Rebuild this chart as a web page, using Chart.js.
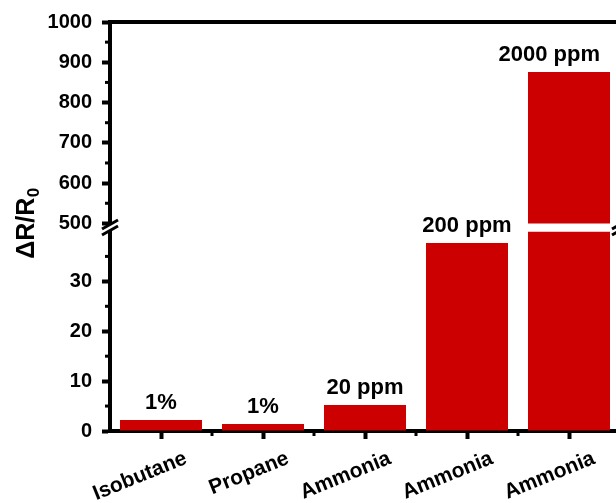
<!DOCTYPE html>
<html>
<head>
<meta charset="utf-8">
<script src="https://cdn.jsdelivr.net/npm/chart.js@4/dist/chart.umd.min.js"></script>
<style>
  html, body { margin: 0; padding: 0; background: #fff; overflow: hidden; width: 616px; height: 503px; }
  canvas { display: block; }
</style>
</head>
<body>
<canvas id="chart" width="620" height="503"></canvas>
<script>
// Sensor response of the film to different gases
const categories = ['Isobutane', 'Propane', 'Ammonia', 'Ammonia', 'Ammonia'];
const concentrations = ['1%', '1%', '20 ppm', '200 ppm', '2000 ppm'];
const response = [2.2, 1.4, 5.2, 37.7, 876];

// Broken y axis: a lower segment and an upper segment
const lowerTicks = [0, 10, 20, 30];
const lowerMinorTicks = [5, 15, 25, 35];
const upperTicks = [500, 600, 700, 800, 900, 1000];
const upperMinorTicks = [550, 650, 750, 850, 950];
const LOWER_MAX = 40;
const UPPER_START = 500;
const UPPER_MIN = 480;
const UPPER_MAX = 1000;

const RED = '#cc0000';
const FAMILY = '"Liberation Sans", Arial, Helvetica, sans-serif';
const INK = '#000';

// Part of each bar that falls inside each axis segment
const lowerPart = response.map(v => [0, Math.min(v, LOWER_MAX)]);
const upperPart = response.map(v => (v > UPPER_START ? [UPPER_START, v] : null));

const brokenAxisPlugin = {
  id: 'brokenAxis',
  afterDraw(chart) {
    const ctx = chart.ctx;
    const area = chart.chartArea;
    const yLow = chart.scales.yLow;
    const yHigh = chart.scales.yHigh;

    ctx.save();
    ctx.fillStyle = INK;

    // minor ticks on the y segments
    const minorY = (scale, vals) => {
      vals.forEach(v => {
        const py = scale.getPixelForValue(v);
        ctx.fillRect(area.left - 5, py - 1.5, 5, 3);
      });
    };
    minorY(yLow, lowerMinorTicks);
    minorY(yHigh, upperMinorTicks);

    // minor ticks between categories
    const step = (area.right - area.left) / categories.length;
    for (let i = 1; i < categories.length; i++) {
      const px = area.left + step * i;
      ctx.fillRect(px - 1.5, area.bottom, 3, 5);
    }

    // break marks on both sides of the frame
    const gapTop = yHigh.getPixelForValue(UPPER_START);
    const gapBottom = yLow.getPixelForValue(LOWER_MAX);
    const mid = (gapTop + gapBottom) / 2;
    [area.left, area.right].forEach(bx => {
      const dx = 8, dy = 4.5, off = 3;
      ctx.fillStyle = '#fff';
      ctx.beginPath();
      ctx.moveTo(bx - dx, mid + dy - off);
      ctx.lineTo(bx + dx, mid - dy - off);
      ctx.lineTo(bx + dx, mid - dy + off);
      ctx.lineTo(bx - dx, mid + dy + off);
      ctx.closePath();
      ctx.fill();
      ctx.strokeStyle = INK;
      ctx.lineWidth = 3;
      [-off, off].forEach(o => {
        ctx.beginPath();
        ctx.moveTo(bx - dx, mid + dy + o);
        ctx.lineTo(bx + dx, mid - dy + o);
        ctx.stroke();
      });
    });

    // concentration labels above the bars
    ctx.fillStyle = INK;
    ctx.font = 'bold 22px ' + FAMILY;
    ctx.textAlign = 'center';
    ctx.textBaseline = 'alphabetic';
    const meta = chart.getDatasetMeta(0);
    const visibleRight = window.innerWidth - 16;
    response.forEach((v, i) => {
      const top = v > UPPER_START ? yHigh.getPixelForValue(v) : yLow.getPixelForValue(v);
      const w = ctx.measureText(concentrations[i]).width;
      const cx = Math.min(meta.data[i].x, visibleRight - w / 2);
      ctx.fillText(concentrations[i], cx, top - 11);
    });

    // y axis title: ΔR/R0 with a subscript
    const cy = (area.top + area.bottom) / 2 - 3;
    ctx.translate(34, cy);
    ctx.rotate(-Math.PI / 2);
    ctx.textAlign = 'left';
    const main = 'ΔR/R';
    const sub = '0';
    ctx.font = 'bold 25px ' + FAMILY;
    const wMain = ctx.measureText(main).width;
    ctx.font = 'bold 17px ' + FAMILY;
    const wSub = ctx.measureText(sub).width;
    const start = -(wMain + wSub) / 2;
    ctx.font = 'bold 25px ' + FAMILY;
    ctx.fillText(main, start, 0);
    ctx.font = 'bold 17px ' + FAMILY;
    ctx.fillText(sub, start + wMain + 0.5, 5);
    ctx.restore();
  }
};

const tickFont = { family: FAMILY, size: 20, weight: 'bold' };

const yCommon = {
  type: 'linear',
  position: 'left',
  stack: 'y',
  grid: { drawOnChartArea: false, tickLength: 8, tickWidth: 4, tickColor: INK },
  border: { display: true, width: 4, color: INK },
  ticks: { font: tickFont, color: INK, padding: 10, autoSkip: false, callback: v => String(v) },
  afterFit: s => { s.width = 110; }
};

new Chart(document.getElementById('chart'), {
  type: 'bar',
  data: {
    labels: categories,
    datasets: [
      { label: 'lower', data: lowerPart, yAxisID: 'yLow', backgroundColor: RED, borderWidth: 0 },
      { label: 'upper', data: upperPart, yAxisID: 'yHigh', backgroundColor: RED, borderWidth: 0 }
    ]
  },
  options: {
    responsive: false,
    animation: false,
    devicePixelRatio: 1,
    layout: { padding: 0 },
    plugins: { legend: { display: false }, tooltip: { enabled: false } },
    datasets: {
      bar: {
        grouped: false,
        categoryPercentage: 1,
        barPercentage: 0.804
      }
    },
    scales: {
      x: {
        type: 'category',
        position: 'bottom',
        grid: { display: true, drawOnChartArea: false, offset: false, tickLength: 8, tickWidth: 4, tickColor: INK },
        border: { display: true, width: 4, color: INK },
        ticks: {
          font: { family: FAMILY, size: 21, weight: 'bold' },
          color: INK,
          minRotation: 22,
          maxRotation: 22,
          autoSkip: false,
          labelOffset: 25,
          padding: 7
        },
        afterFit: s => { s.height = 72; }
      },
      xTop: {
        type: 'category',
        position: 'top',
        grid: { display: false },
        ticks: { display: false },
        border: { display: true, width: 4, color: INK },
        afterFit: s => { s.height = 19; }
      },
      yLow: Object.assign({}, yCommon, {
        stackWeight: 201,
        min: 0,
        max: LOWER_MAX,
        afterBuildTicks: s => { s.ticks = lowerTicks.map(v => ({ value: v })); }
      }),
      yHigh: Object.assign({}, yCommon, {
        stackWeight: 211,
        min: UPPER_MIN,
        max: UPPER_MAX,
        afterBuildTicks: s => { s.ticks = upperTicks.map(v => ({ value: v })); }
      })
    }
  },
  plugins: [brokenAxisPlugin]
});
</script>
</body>
</html>
